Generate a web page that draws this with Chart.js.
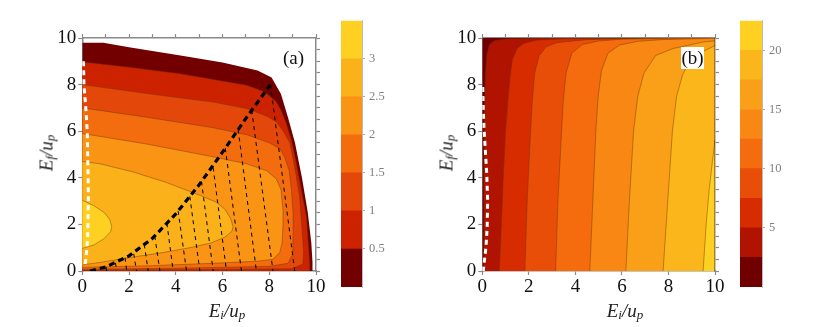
<!DOCTYPE html>
<html>
<head>
<meta charset="utf-8">
<script src="https://cdn.jsdelivr.net/npm/chart.js@4.4.1/dist/chart.umd.min.js"></script>
<style>
  body { margin: 0; background: #fff; }
  #wrap { position: relative; width: 830px; height: 327px; overflow: hidden; }
  #wrap canvas { position: absolute; top: 0; }
  .ttl { position: absolute; font-family: 'Liberation Serif', serif; font-size: 19px; font-style: italic; color: #222; white-space: nowrap; line-height: 1; transform: translate(-50%, -50%); }
  .ttl sub { font-size: 13px; position: relative; top: 2px; vertical-align: baseline; }
  .ttl.rot { transform: translate(-50%, -50%) rotate(-90deg); }
  .tag { position: absolute; font-family: 'Liberation Serif', serif; font-size: 19px; color: #111; line-height: 22px; text-align: center; }
</style>
</head>
<body>
<div id="wrap">
  <canvas id="chartA" width="330" height="327" style="left:0"></canvas>
  <canvas id="barA" width="60" height="327" style="left:330px"></canvas>
  <canvas id="chartB" width="330" height="327" style="left:400px"></canvas>
  <canvas id="barB" width="70" height="327" style="left:730px"></canvas>

  <div class="ttl" style="left:227px;top:310px">E<sub>i</sub>/u<sub>p</sub></div>
  <div class="ttl rot" style="left:46px;top:153px">E<sub>f</sub>/u<sub>p</sub></div>
  <div class="ttl" style="left:625px;top:310px">E<sub>i</sub>/u<sub>p</sub></div>
  <div class="ttl rot" style="left:446px;top:153px">E<sub>f</sub>/u<sub>p</sub></div>
  <div class="tag" style="left:282px;top:47px;width:23px">(a)</div>
  <div class="tag" style="left:681px;top:47px;width:23px;background:#fff">(b)</div>
</div>

<script>
// panel (a): contour levels and band colours
const levelsA = [0, 0.5, 1, 1.5, 2, 2.5, 3, 3.5]
const colorsA = ['#730000', '#cc2200', '#e4470a', '#f36d0f', '#f99415', '#fbb21a', '#fdd022']
const cbarTicksA = [0.5, 1, 1.5, 2, 2.5, 3]

// region where value > level, boundary as [Ei, Ef]
const a_lvl0 = [[0,0],[9.86,0],[9.85,0.4],[9.8,1.2],[9.65,2.5],[9.4,4],[9.1,5.5],[8.8,6.6],[8.5,7.6],[8.1,8.3],[7.5,8.6],[6,8.95],[4.2,9.25],[2,9.6],[0.9,9.8],[0,9.8]]
const a_lvl05 = [[0,0],[9.73,0],[9.73,0.33],[9.59,2.33],[9.35,3.6],[9.16,4.61],[8.95,5.6],[8.73,6.33],[8.5,6.9],[8.3,7.26],[7.8,7.69],[7.03,7.97],[4.17,8.47],[2,8.75],[0,8.97]]
const a_lvl1 = [[0,0.04],[5,0.06],[9,0.1],[9.44,0.3],[9.47,0.8],[9.4,1.8],[9.3,3.18],[9.1,4.4],[8.88,5.5],[8.6,6.0],[8.31,6.4],[7.88,6.65],[7.03,6.97],[5.6,7.25],[2.75,7.62],[0,8.0]]
const a_lvl15 = [[0,0.08],[4,0.12],[8,0.2],[8.8,0.33],[9,0.7],[9.02,1.5],[9.02,2.47],[8.95,3.5],[8.85,4.33],[8.65,4.9],[8.45,5.25],[8,5.5],[7.03,5.85],[5.6,6.15],[2.75,6.6],[0,7.0]]
const a_lvl2 = [[0,0.16],[2.75,0.22],[5.6,0.33],[7.5,0.42],[8.16,0.5],[8.45,0.8],[8.55,1.2],[8.59,2.0],[8.59,2.6],[8.5,3.5],[8.3,3.95],[7.9,4.3],[7.03,4.6],[5.6,4.9],[2.75,5.45],[0,5.9]]
const a_lvl25 = [[0,0.26],[0.76,0.37],[2.18,0.6],[3.5,0.8],[4.6,1.0],[5.5,1.2],[6.1,1.45],[6.4,1.7],[6.45,1.9],[6.35,2.25],[6.1,2.65],[5.74,2.95],[5.03,3.25],[3.6,3.8],[2.18,4.25],[0.76,4.6],[0,4.7]]
const a_lvl3 = [[0,0.97],[0.5,1.12],[0.95,1.4],[1.22,1.7],[1.26,1.9],[1.18,2.2],[0.95,2.5],[0.5,2.8],[0,3.04]]

// dashed curves in (a)
const a_whiteX = [0.05, 0.07, 0.15, 0.21, 0.25, 0.26, 0.23, 0.2, 0.15, 0.12]
const a_whiteY = [9.0, 8.0, 7.0, 6.0, 4.0, 3.0, 1.5, 1.0, 0.5, 0.3]
const a_blackX = [0.33, 1, 2, 3, 4, 5, 6, 7, 8.05]
const a_blackY = [0, 0.17, 0.65, 1.4, 2.45, 3.7, 5.1, 6.55, 8.0]
const a_thinTopX = [1.02, 1.42, 1.83, 2.2, 2.65, 3.1, 3.62, 4.1, 4.6, 5.1, 5.6, 6.12, 6.67, 7.25, 8.05]
const a_thinTopY = [0.17, 0.35, 0.57, 0.74, 1.14, 1.5, 2.05, 2.58, 3.2, 3.84, 4.44, 5.27, 6.07, 6.9, 8.0]
const a_thinBottomX = [1.04, 1.47, 1.9, 2.32, 2.82, 3.32, 3.89, 4.46, 5.03, 5.6, 6.17, 6.81, 7.45, 8.16, 9.09]

// panel (b): contour levels and band colours
const levelsB = [0, 2.5, 5, 7.5, 10, 12.5, 15, 17.5, 20, 22.5]
const colorsB = ['#700000', '#b01300', '#d62c00', '#e84e08', '#f46c0e', '#f98714', '#fa9f18', '#fbb61b', '#fdd022']
const cbarTicksB = [5, 10, 15, 20]

// level lines in (b), bottom to top/right edge, as [Ei, Ef]
const b_lvl0 = [[0,0],[0,10],[10,10]]
const b_lvl25 = [[0.04,0],[0.07,4],[0.1,7],[0.14,8.5],[0.2,9.3],[0.3,9.7],[0.5,9.88],[1,9.96],[2.5,9.99],[10,10]]
const b_lvl5 = [[0.73,0],[0.82,2],[0.9,4],[1,6],[1.1,7.3],[1.2,8.4],[1.3,9.1],[1.5,9.55],[1.8,9.78],[2.3,9.9],[3.5,9.97],[10,10]]
const b_lvl75 = [[1.83,0],[1.93,3],[2.05,5.5],[2.15,7.3],[2.25,8.5],[2.45,9.25],[2.75,9.62],[3.2,9.8],[4.5,9.93],[6,9.97],[10,10]]
const b_lvl10 = [[3.15,0],[3.25,3],[3.38,5.5],[3.48,7.3],[3.6,8.5],[3.85,9.35],[4.3,9.72],[5,9.87],[6,9.95],[8,9.985],[10,10]]
const b_lvl125 = [[4.62,0],[4.75,3],[4.88,6],[4.98,7.5],[5.12,8.6],[5.4,9.35],[5.9,9.7],[6.7,9.86],[7.7,9.93],[10,9.99]]
const b_lvl15 = [[6.17,0],[6.32,3],[6.5,6],[6.68,7.5],[6.95,8.5],[7.45,9.25],[8.2,9.55],[9.5,9.83],[10,9.88]]
const b_lvl175 = [[7.77,0],[7.97,3],[8.17,6],[8.35,7.5],[8.6,8.4],[8.9,9.0],[9.45,9.4],[10,9.68]]
const b_lvl20 = [[9.49,0],[9.62,2],[9.75,3.5],[9.9,4.8],[10,5.6]]

const b_whiteX = [0.02, 0.04, 0.07, 0.13, 0.19, 0.23, 0.21, 0.16, 0.04]
const b_whiteY = [7.9, 7.04, 6.19, 5.19, 4.19, 3.04, 1.9, 1.04, 0]

// shared style
const axisGray = '#8a8a8a'
const tickFont = { family: 'Liberation Serif', size: 19 }
const contourLine = 'rgba(105,55,0,0.55)'

const pts = (xs, ys) => xs.map((x, i) => ({ x, y: ys[i] }))
const pairs = arr => arr.map(([x, y]) => ({ x, y }))

function frameScales(leftW, rightW) {
  const base = {
    type: 'linear', min: 0, max: 10,
    grid: { drawOnChartArea: false, tickLength: 4, tickColor: axisGray, tickWidth: 1.2 },
    border: { color: axisGray, width: 1.5 }
  }
  const shown = { stepSize: 2, font: tickFont, color: '#111', padding: 2, maxRotation: 0, autoSkip: false }
  return {
    x: { ...base, position: 'bottom', ticks: { ...shown, padding: 1 }, afterFit: s => { s.height = 56 } },
    xt: { ...base, position: 'top', ticks: { stepSize: 1, display: false }, afterFit: s => { s.height = 38 } },
    y: { ...base, position: 'left', ticks: shown, afterFit: s => { s.width = leftW } },
    yr: { ...base, position: 'right', ticks: { stepSize: 0.5, display: false }, afterFit: s => { s.width = rightW } }
  }
}

function regionSets(regions, colors) {
  return regions.map((r, i) => ({
    data: pairs(r),
    showLine: true,
    fill: 'shape',
    backgroundColor: colors[i],
    borderColor: i === 0 ? 'rgba(0,0,0,0)' : contourLine,
    borderWidth: 0.8,
    pointRadius: 0,
    xAxisID: 'x', yAxisID: 'y',
    order: 100 - i
  }))
}

function dashSet(data, color, width, dash) {
  return {
    data, showLine: true, fill: false,
    borderColor: color, borderWidth: width, borderDash: dash,
    pointRadius: 0, xAxisID: 'x', yAxisID: 'y', order: 0
  }
}

function panel(id, datasets, leftW, rightW) {
  return new Chart(document.getElementById(id), {
    type: 'scatter',
    data: { datasets },
    options: {
      responsive: false, animation: false, events: [],
      plugins: { legend: { display: false }, tooltip: { enabled: false } },
      layout: { padding: 0 },
      scales: frameScales(leftW, rightW)
    }
  })
}

function colorbar(id, levels, colors, tickVals, padLeft, axisW) {
  return new Chart(document.getElementById(id), {
    type: 'bar',
    data: {
      labels: [''],
      datasets: colors.map((c, i) => ({
        data: [[levels[i], levels[i + 1]]],
        backgroundColor: c, borderWidth: 0,
        barPercentage: 1, categoryPercentage: 1, grouped: false
      }))
    },
    options: {
      responsive: false, animation: false, events: [],
      plugins: { legend: { display: false }, tooltip: { enabled: false } },
      layout: { padding: { left: padLeft, top: 20.7, bottom: 40, right: 0 } },
      scales: {
        x: { display: false },
        y: {
          position: 'right', min: levels[0], max: levels[levels.length - 1],
          afterBuildTicks: s => { s.ticks = tickVals.map(v => ({ value: v })) },
          ticks: { font: { family: 'Liberation Serif', size: 12.5 }, color: '#808080', padding: 4, callback: v => String(v) },
          grid: { drawOnChartArea: false, tickLength: 3, tickColor: '#aaa' },
          border: { color: '#bbb', width: 1 },
          afterFit: s => { s.width = axisW }
        }
      }
    }
  })
}

// panel (a)
const regionsA = [a_lvl0, a_lvl05, a_lvl1, a_lvl15, a_lvl2, a_lvl25, a_lvl3]
const setsA = regionSets(regionsA, colorsA)
a_thinTopX.forEach((x, i) => {
  setsA.push(dashSet([{ x, y: a_thinTopY[i] }, { x: a_thinBottomX[i], y: 0 }], '#000', 1, [4, 4]))
})
setsA.push(dashSet(pts(a_blackX, a_blackY), '#000', 3.2, [6, 4]))
setsA.push(dashSet(pts(a_whiteX, a_whiteY), '#fff', 3, [5, 4]))
panel('chartA', setsA, 82.3, 14)
colorbar('barA', levelsA, colorsA, cbarTicksA, 11, 28)

// panel (b): each region is right of its level line
const linesB = [b_lvl0, b_lvl25, b_lvl5, b_lvl75, b_lvl10, b_lvl125, b_lvl15, b_lvl175, b_lvl20]
const regionsB = linesB.map(l => l.concat([[10, 0]]))
const setsB = regionSets(regionsB, colorsB)
setsB.push(dashSet(pts(b_whiteX, b_whiteY), '#fff', 3, [5, 4]))
panel('chartB', setsB, 82.3, 15)
colorbar('barB', levelsB, colorsB, cbarTicksB, 10, 38)
</script>
</body>
</html>
